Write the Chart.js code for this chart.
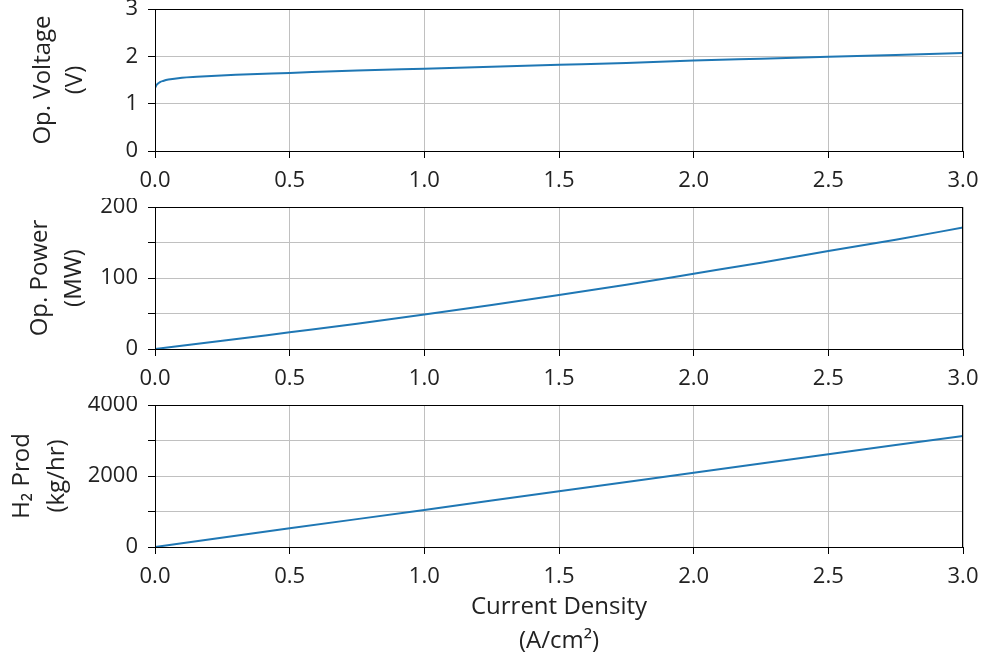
<!DOCTYPE html>
<html>
<head>
<meta charset="utf-8">
<script src="https://cdn.jsdelivr.net/npm/chart.js@4"></script>
<style>
  body { margin: 0; background: #fff; }
  .wrap { position: absolute; left: 0; width: 982px; }
</style>
</head>
<body>
<div class="wrap" style="top:0;height:200px"><canvas id="voltageChart"></canvas></div>
<div class="wrap" style="top:198px;height:200px"><canvas id="powerChart"></canvas></div>
<div class="wrap" style="top:396px;height:265px"><canvas id="h2Chart"></canvas></div>
<script>
// Current density samples (A/cm2)
const voltageX = [0, 0.005, 0.01, 0.02, 0.03, 0.05, 0.1, 0.155, 0.3, 0.5, 0.75, 1.0, 1.25, 1.5, 1.75, 2.0, 2.25, 2.5, 2.75, 3.0];
const voltageY = [1.33, 1.39, 1.42, 1.46, 1.48, 1.51, 1.55, 1.57, 1.61, 1.65, 1.70, 1.74, 1.78, 1.82, 1.86, 1.91, 1.95, 1.99, 2.03, 2.07];

const powerX = [0, 0.25, 0.5, 0.75, 1.0, 1.25, 1.5, 1.75, 2.0, 2.25, 2.5, 2.75, 3.0];
const powerY = [0, 11.5, 23.5, 35.5, 48.5, 62, 76, 90.5, 106, 121.5, 138, 154, 171];

const h2X = [0, 0.5, 1.0, 1.5, 2.0, 2.5, 3.0];
const h2Y = [0, 525, 1045, 1570, 2090, 2610, 3130];

const xTicks = [0, 0.5, 1.0, 1.5, 2.0, 2.5, 3.0];

const FONT = "'Open Sans', 'DejaVu Sans', sans-serif";
const LINE_COLOR = '#1f77b4';
const GRID_COLOR = '#c0c0c0';

// Draw the black frame round the plot area
const framePlugin = {
    id: 'frame',
    afterDraw(chart) {
        const { ctx, chartArea } = chart;
        ctx.save();
        ctx.strokeStyle = '#000';
        ctx.lineWidth = 1;
        ctx.strokeRect(chartArea.left + 0.5, chartArea.top + 0.5,
            chartArea.right - chartArea.left - 1, chartArea.bottom - chartArea.top);
        ctx.restore();
    }
};

function toPoints(xs, ys) {
    return xs.map((x, i) => ({ x: x, y: ys[i] }));
}

function makeChart(canvasId, xs, ys, opts) {
    const ctx = document.getElementById(canvasId).getContext('2d');
    return new Chart(ctx, {
        type: 'line',
        data: {
            datasets: [{
                data: toPoints(xs, ys),
                borderColor: LINE_COLOR,
                borderWidth: 2,
                pointRadius: 0,
                cubicInterpolationMode: 'monotone',
                fill: false
            }]
        },
        options: {
            responsive: true,
            maintainAspectRatio: false,
            animation: false,
            layout: { padding: { left: 0, top: 9, right: 19, bottom: 0 } },
            plugins: { legend: { display: false }, tooltip: { enabled: false } },
            scales: {
                x: {
                    type: 'linear',
                    min: 0,
                    max: 3,
                    afterBuildTicks: (scale) => { scale.ticks = xTicks.map(v => ({ value: v })); },
                    afterFit: (scale) => {
                        scale.height = opts.xHeight;
                        scale.paddingLeft = 0;
                        scale.paddingRight = 0;
                    },
                    ticks: {
                        font: { family: FONT, size: 22 },
                        color: '#222',
                        padding: 10,
                        maxRotation: 0,
                        callback: (v) => Number(v).toFixed(1)
                    },
                    grid: { color: GRID_COLOR, tickColor: '#000', tickLength: 7 },
                    border: { color: '#000', width: 1 },
                    title: opts.xTitle ? {
                        display: true,
                        text: opts.xTitle,
                        font: { family: FONT, size: 24, lineHeight: 1.4 },
                        color: '#222',
                        padding: { top: 0, bottom: 3 }
                    } : { display: false }
                },
                y: {
                    min: 0,
                    max: opts.yMax,
                    afterFit: (scale) => {
                        scale.width = 155;
                        scale.paddingTop = 0;
                        scale.paddingBottom = 0;
                    },
                    ticks: {
                        stepSize: opts.yStep,
                        font: { family: FONT, size: 22 },
                        color: '#222',
                        padding: 10,
                        callback: (v) => (v % opts.yLabelStep === 0 ? v : '')
                    },
                    grid: { color: GRID_COLOR, tickColor: '#000', tickLength: 7 },
                    border: { color: '#000', width: 1 },
                    title: {
                        display: true,
                        text: opts.yTitle,
                        font: { family: FONT, size: 24, lineHeight: opts.titleLineHeight },
                        color: '#222',
                        padding: { top: opts.titlePad, bottom: 0 }
                    }
                }
            }
        },
        plugins: [framePlugin]
    });
}

makeChart('voltageChart', voltageX, voltageY, {
    yMax: 3, yStep: 0.5, yLabelStep: 1, yTitle: ['Op. Voltage', '(V)'], xHeight: 49,
    titleLineHeight: 1.3, titlePad: 28
});
makeChart('powerChart', powerX, powerY, {
    yMax: 200, yStep: 50, yLabelStep: 100, yTitle: ['Op. Power', '(MW)'], xHeight: 49,
    titleLineHeight: 1.42, titlePad: 23
});
makeChart('h2Chart', h2X, h2Y, {
    yMax: 4000, yStep: 1000, yLabelStep: 2000, yTitle: ['H₂ Prod', '(kg/hr)'], xHeight: 114,
    titleLineHeight: 1.45, titlePad: 5,
    xTitle: ['Current Density', '(A/cm²)']
});
</script>
</body>
</html>
